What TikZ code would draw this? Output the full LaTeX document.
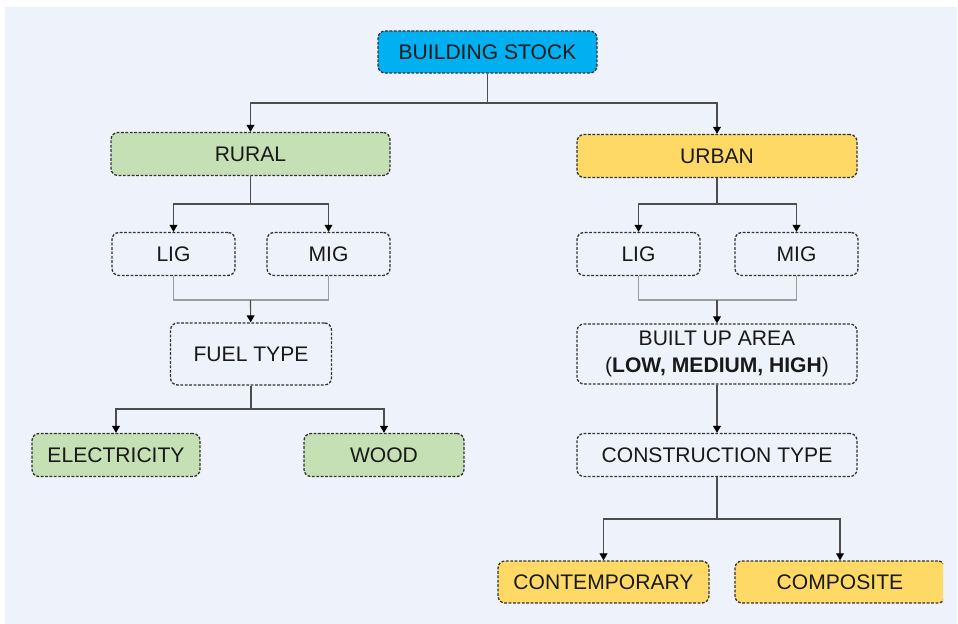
\documentclass[tikz,border=0pt]{standalone}
\usepackage{fontspec}
\setmainfont{Liberation Sans}
\usetikzlibrary{arrows.meta,positioning}

\definecolor{panel}{HTML}{EEF2FA}
\definecolor{stockblue}{HTML}{00B0F0}
\definecolor{ruralgreen}{HTML}{C5E0B4}
\definecolor{urbanyellow}{HTML}{FFD966}

\begin{document}
\begin{tikzpicture}[x=0.02cm,y=-0.02cm,
    box/.style={draw=black!80, line width=0.75pt, dash pattern=on 1.6pt off 0.9pt,
      rounded corners=4pt, minimum height=0.86cm, align=center,
      font=\fontsize{12}{15}\selectfont, text=black!90},
    link/.style={draw=black!70, line width=0.65pt, -{Triangle[length=4pt,width=4.5pt,color=black]}},
    merge/.style={draw=black!38, line width=0.65pt}]
  \useasboundingbox (0,0) rectangle (958,624);
  \fill[white] (0,0) rectangle (958,624);
  \fill[panel] (5,7) rectangle (957,624);

  % top level
  \node[box, fill=stockblue, minimum width=4.38cm, minimum height=0.84cm] (stock) at (487.5,52) {BUILDING STOCK};

  % rural side
  \begin{scope}[every node/.style={box}]
    \node[fill=ruralgreen, minimum width=5.58cm] (rural) at (250.5,154) {RURAL};
    \node[minimum width=2.46cm] (rlig) at (173.5,254) {LIG};
    \node[minimum width=2.46cm] (rmig) at (328.5,254) {MIG};
    \node[minimum width=3.22cm, minimum height=1.24cm] (fuel) at (251,354) {FUEL TYPE};
    \node[fill=ruralgreen, minimum width=3.36cm] (elec) at (116,455) {ELECTRICITY};
    \node[fill=ruralgreen, minimum width=3.2cm] (wood) at (384,455) {WOOD};
  \end{scope}

  % urban side
  \begin{scope}[every node/.style={box}]
    \node[fill=urbanyellow, minimum width=5.6cm] (urban) at (717,156) {URBAN};
    \node[minimum width=2.46cm] (ulig) at (638.5,254) {LIG};
    \node[minimum width=2.46cm] (umig) at (796.5,254) {MIG};
    \node[minimum width=5.6cm, minimum height=1.2cm] (area) at (717,354)
      {BUILT UP AREA\\(\textbf{LOW, MEDIUM, HIGH})};
    \node[minimum width=5.6cm] (construct) at (717,455) {CONSTRUCTION TYPE};
    \node[fill=urbanyellow, minimum width=4.22cm, minimum height=0.84cm] (contemp) at (603.5,582) {CONTEMPORARY};
  \end{scope}
  \begin{scope}
    \clip (0,0) rectangle (943,624);
    \node[box, fill=urbanyellow, minimum width=4.2cm, minimum height=0.84cm] (composite) at (840,582) {COMPOSITE};
  \end{scope}

  % branch points
  \coordinate (sjoin) at (487.5,103);
  \coordinate (rsplit) at (250.5,204);
  \coordinate (rjoin) at (250.5,300);
  \coordinate (fsplit) at (251,409);
  \coordinate (usplit) at (717,204);
  \coordinate (ujoin) at (717,300);
  \coordinate (csplit) at (717,519);

  % connectors
  \draw[link,-] (stock) -- (sjoin);
  \draw[link] (sjoin) -| (rural);
  \draw[link] (sjoin) -| (urban);

  \draw[link,-] (rural) -- (rsplit);
  \draw[link] (rsplit) -| (rlig);
  \draw[link] (rsplit) -| (rmig);
  \draw[merge] (rlig.south) |- (rjoin) -| (rmig.south);
  \draw[link] (rjoin) -- (fuel);
  \draw[link,-] (fuel) -- (fsplit);
  \draw[link] (fsplit) -| (elec);
  \draw[link] (fsplit) -| (wood);

  \draw[link,-] (urban) -- (usplit);
  \draw[link] (usplit) -| (ulig);
  \draw[link] (usplit) -| (umig);
  \draw[merge] (ulig.south) |- (ujoin) -| (umig.south);
  \draw[link] (ujoin) -- (area);
  \draw[link] (area) -- (construct);
  \draw[link,-] (construct) -- (csplit);
  \draw[link] (csplit) -| (contemp);
  \draw[link] (csplit) -| (composite);
\end{tikzpicture}
\end{document}
